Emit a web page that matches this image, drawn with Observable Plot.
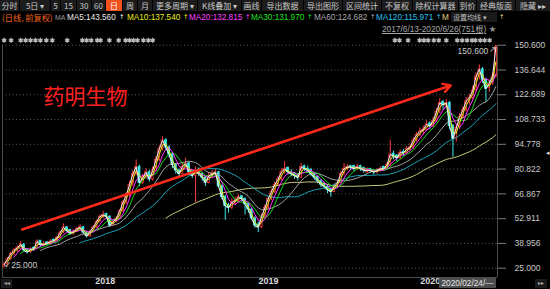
<!DOCTYPE html>
<html><head><meta charset="utf-8">
<script src="https://cdn.jsdelivr.net/npm/d3@7"></script>
<script src="https://cdn.jsdelivr.net/npm/@observablehq/plot@0.6"></script>
<style>
html,body{margin:0;padding:0;background:#000;}
#wrap{position:relative;width:550px;height:289px;overflow:hidden;background:#000;font-family:"Liberation Sans","Noto Sans CJK SC",sans-serif;}
#chart{position:absolute;left:0;top:0;}
#ui{position:absolute;left:0;top:0;width:550px;height:289px;pointer-events:none;}
.abs{position:absolute;white-space:nowrap;line-height:1;}
.btn{position:absolute;top:0;height:11px;background:#1c1c1c;color:#c8c8c8;font-size:8px;line-height:11px;text-align:center;font-family:"Noto Sans CJK SC","Liberation Sans",sans-serif;white-space:nowrap;overflow:hidden;}
.btn.on{background:#f0521e;color:#fff;}
.lg{position:absolute;top:13px;font-size:8.2px;line-height:9px;white-space:nowrap;}
.ar{position:absolute;top:13px;font-size:6.5px;line-height:9px;font-family:"DejaVu Sans";white-space:nowrap;}
</style></head>
<body><div id="wrap"><div id="chart"></div><div id="ui"></div></div>
<script>
// ---- data (weekly bars, 2017/6/13 - 2020/6/26) ----
const open = [26,27.5,30,33.5,35,36,38,35.5,34,36.5, 36,40.5,37.5,39.5,38.5,41,40.5,42,45.5,48, 46.5,44,46,47,48,45.5,43,46,48,51.5, 54,55.5,54,49,51.5,53,57.5,62,66,73, 78,82,73,76.5,79,75,80,86,92.5,97, 93,89,83.5,80,78,82.5,84,79.5,77,80.5, 78,76,73,77.5,77.5,79,71,65,60.5,59, 62.5,63,65.5,64,61,58,53,49.5,48,54.5, 59,64.5,68,72.5,75,79.5,81.5,79,78.5,77, 76,82.5,81,80.5,78,76.5,74,72.5,71,69.5, 68,71.5,73,78.5,81,82.5,82.5,80.5,82.5,81.5, 79,81,80,79,80.5,82,81,83,89.5,88.5, 87,90.5,90,92.5,93,97.5,100,102.5,103,106.5, 105,108,113.5,118.5,116.5,118,105,98,104.5,110, 114,119.5,121,125.5,133,137,131,126.5,129,133];
const high = [28.5,31,34,36,37.5,40,39,36,36.5,37, 41,40.5,40,40,41,41.5,43,46,50,48.5, 47,46.5,48,49.5,48.5,45.5,46.5,49,52,55, 57,56,54.5,52,54,58,63,67.5,74,80, 86,83,78,81,80,82,88,94,99,98, 94,90,84,81,84,87,85,80,82,81.5, 79,77,79,80,81,79.5,72,66,61.5,64, 65,66.5,66,64.5,62,59,54,51,55.5,60.5, 65,69.5,73.5,76.5,81,85,82,80.5,79,78, 84,83,82.5,81,79,77,75,73.5,72,70, 72.5,74.5,79.5,84,83.5,83,83,83.5,83,82, 81.5,81,80.5,81,82,82.5,84.5,97,91,89, 91.5,92,93.5,95,98.5,101.5,104,105,108,107.5, 110,115,120.5,119.5,120,119,106,105.5,112,116, 121,123,127.5,135,139.5,138,132,131,135,150.6];
const low = [25,26.5,29.5,32,34,36,34,33,33.5,34.5, 35.5,37,37,37.5,38,39,40,41.5,44.5,45, 43.5,44,45,46.5,44,42,42.5,45,47.5,50.5, 53,52.5,48,48.5,50.5,52.5,56.5,61,65,71, 77,71,72,75,73.5,74,79.5,85,91,91, 87,81,78,76,77.5,81,77,75.5,62,76.5, 74,71,72.5,76,77,70,63.5,52,56,58, 60.5,62,62.5,55,56,52,47.5,45,47.5,53, 58,63,67,71,74,78,77.5,76.5,75,74, 75.5,79.5,78.5,76.5,74.5,72.5,70.5,69.5,67,65, 67.5,70,72.5,77,80,80,79.5,80,79.5,78.5, 78.5,78.5,77.5,78,79,79.5,80.5,82.5,86,85, 86,88,89,91,92,96,99,100,102,103, 104,107,112,114,115,103,87.5,96,103,109, 113,117,120,124,131,129,118.5,124,128,132];
const close = [27,30,33,35,36.5,38.5,35,34,35.5,36, 40,38,38.5,39,40,40.5,42,45,48,46, 44.5,45.5,47,48,45,43,45.5,48,51,54, 55,54,49,51,53,57,62,66,72,78, 82,73,76,79,75,80,86,92,97,93, 89,83,80,78,82,84,79,77,80,78, 76,73,77,78,79,71,65,60,59,62, 63,65,64,61,58,53,49,48,54,59, 64,68,72,75,79,81,79,78,77,76, 82,81,80,78,76,74,72,71,69,68, 71,73,78,81,82,82,81,82,81,80, 80,80,79,80,81,81,83,89,88,87, 90,90,92,93,97,100,102,103,106,105, 108,113,118,117,118,105,98,104,110,114, 119,121,125,133,137,131,126,129,133,149.5];
const daysPerBar = 5;
const maPeriods = [250, 120, 60, 30, 20, 10, 5];
const maColors  = ["#c8c87a", "#1aa3b8", "#a0a0a0", "#18d818", "#ff30ff", "#ecec1e", "#f2f2f2"];
const maLegendNames  = ["MA5", "MA10", "MA20", "MA30", "MA60", "MA120"];
const maLegendValues = ["143.560", "137.540", "132.815", "131.970", "124.682", "115.971"];
const maLegendColors = ["#ececec", "#ecec1e", "#ff40ff", "#20e020", "#a8a8a8", "#2cc0f0"];
const tickLabels = ["150.600","136.644","122.689","108.733","94.778","80.822","66.867","52.911","38.956","25.000"];
const yearLabels = ["2018","2019","2020"];
const yearStartBar = [27.5, 77, 126];
const eventBars = [0,2.1,5,6.5,8,9.5,11,12.8,14.6,19.1,23.7,25,26.4,28.2,29.2,31.9,34.7,36.8,38,39.2,40.4,42.2,43.7,45,
  118.4,119.8,122.4,125.9,127.2,128.5,130.2,131.7,134,137.3,138.8,140.3,141.8,142.8,144.3,145.6,147.1];
const stockName = "药明生物";
const trend = {fromBar: 5.97, fromPrice: 46.8, toBar: 135.8, toPrice: 127.9};
const rangeText = "2017/6/13-2020/6/26(751根)";
const cursorDate = "2020/02/24/—";

const data = close.map((c, i) => ({i, open: open[i], high: high[i], low: low[i], close: c, up: c >= open[i]}));
const tickValues = tickLabels.map(Number);
const UP = "#ff3c3c", DOWN = "#3ceaea";
const hiBar = data[d3.maxIndex(data, d => d.high)];
const loBar = data[d3.minIndex(data, d => d.low)];
const fmt = d3.format(".3f");

const maMarks = maPeriods.map((p, j) => Plot.lineY(data, Plot.windowY(
  {k: p / daysPerBar, anchor: "end", strict: true},
  {x: d => d.i + 0.5, y: "close", stroke: maColors[j], strokeWidth: 1}
)));

const chart = Plot.plot({
  width: 550, height: 289,
  marginTop: 44.7, marginBottom: 12, marginLeft: 2, marginRight: 53,
  style: {background: "transparent", color: "#c8c8c8", fontFamily: "Liberation Sans, sans-serif", overflow: "visible"},
  x: {domain: [0, close.length], axis: null},
  y: {domain: [19.76, 150.6], axis: null},
  marks: [
    Plot.ruleY(tickValues, {stroke: "#5a5a5a", strokeDasharray: "1 2.5"}),
    Plot.ruleY([19.76], {stroke: "#4a4a4a"}),
    Plot.ruleX([0, close.length], {stroke: "#4a4a4a"}),
    Plot.axisY({anchor: "right", ticks: tickValues, tickFormat: d => tickLabels[tickValues.indexOf(d)],
      tickSize: 8, tickPadding: 9, fontSize: 8.5, fill: "#c8c8c8", stroke: "#7a7a7a", label: null}),
    Plot.dot(eventBars, {x: d => d + 0.5, frameAnchor: "top", dy: -5, symbol: "asterisk", r: 2.3, stroke: "#b8b8b8", strokeWidth: 1.3}),
    Plot.text([stockName], {frameAnchor: "top-left", dx: 41, dy: 43.5, textAnchor: "start", fontSize: 21, fill: "#ff2020", fontFamily: "Noto Sans CJK SC"}),
    Plot.ruleX(data, {x: d => d.i + 0.5, y1: "low", y2: "high", stroke: d => d.up ? UP : DOWN, strokeWidth: 1}),
    Plot.rect(data, {x1: d => d.i + 0.2, x2: d => d.i + 0.8, y1: "open", y2: "close",
      fill: d => d.up ? "#000" : DOWN, stroke: d => d.up ? UP : DOWN, strokeWidth: 0.8}),
    ...maMarks,
    Plot.arrow([trend], {x1: "fromBar", y1: "fromPrice", x2: "toBar", y2: "toPrice", stroke: "#ff2a1a", strokeWidth: 2.5, headLength: 5}),
    Plot.text([hiBar], {x: d => d.i + 0.5, y: "high", text: d => fmt(d.high), textAnchor: "end", dx: -7.5, dy: 6, fontSize: 8.5, fill: "#c8c8c8"}),
    Plot.text([hiBar], {x: d => d.i + 0.5, y: "high", text: () => "↗", dx: -3.5, dy: 4, fontSize: 8, fill: "#c8c8c8", fontFamily: "DejaVu Sans"}),
    Plot.text([loBar], {x: d => d.i + 0.5, y: "low", text: d => fmt(d.low), textAnchor: "start", dx: 7, dy: -2.5, fontSize: 8.5, fill: "#c8c8c8"}),
    Plot.text([loBar], {x: d => d.i + 0.5, y: "low", text: () => "↙", dx: 3.5, dy: -3.5, fontSize: 8, fill: "#c8c8c8", fontFamily: "DejaVu Sans"}),
    Plot.text(yearLabels, {x: (d, i) => yearStartBar[i], frameAnchor: "bottom", dy: 6.5, textAnchor: "start", dx: 2, text: d => d, fontSize: 9, fontWeight: "bold", fill: "#d8d8d8"})
  ]
});
document.getElementById("chart").appendChild(chart);

// ---- UI chrome (toolbar, legend) ----
const ui = document.getElementById("ui");
function add(html){ ui.insertAdjacentHTML("beforeend", html); }
const toolbar = [["分时",0,19],["5日 ▾",20,30],["5",51,9],["15",61,15],["30",77,14],["60",92,13],["日",106,16,1],["周",123,14],["月",138,14],
  ["更多周期 ▾",153,44],["K线叠加 ▾",198,43],["画线",242,19],["导出数据",262,41],["导出图形",304,38],["区间统计",343,38],["不复权",382,30],
  ["除权计算器",413,45],["到价",459,17],["经典版面",477,38],["隐藏 ▸▸",516,34]];
toolbar.forEach(([t,l,w,on]) => add(`<div class="btn${on?" on":""}" style="left:${l}px;width:${w}px">${t}</div>`));
add(`<div class="lg" style="left:2px;color:#f0641e;font-family:'Noto Sans CJK SC'">(日线, 前复权)</div>`);
add(`<div class="lg" style="left:55px;color:#9a9a9a;font-size:7px">MA</div>`);
const lgX = [67, 127, 189, 251, 314, 376];
const arX = [119, 183, 245, 307, 370, 436];
maLegendNames.forEach((n, j) => {
  add(`<div class="lg" style="left:${lgX[j]}px;color:${maLegendColors[j]}">${n}:${maLegendValues[j]}</div>`);
  add(`<div class="ar" style="left:${arX[j]}px;color:${maLegendColors[j]}">↑</div>`);
});
add(`<div class="lg" style="left:442px;color:#e0d27a">M</div>`);
add(`<div class="lg" style="left:451px;top:12px;height:10px;width:44px;background:#1a1a1a;color:#bdbdbd;font-size:7px;line-height:10px;font-family:'Noto Sans CJK SC';padding-left:2px">设置均线 ▾</div>`);
add(`<div class="ar" style="left:499px;color:#e0d27a">↑</div>`);
add(`<div class="abs" style="left:382px;top:25px;font-size:8.3px;color:#a8a8a8;text-decoration:underline;font-family:'Liberation Sans','Noto Sans CJK SC'">${rangeText}</div>`);
add(`<div class="abs" style="left:489px;top:25px;font-size:7px;color:#909090">★</div>`);
add(`<div class="abs" style="left:439px;top:278px;width:57px;height:10px;background:#4d4d4d;color:#e6e6e6;font-size:8.3px;line-height:10px;text-align:center">${cursorDate}</div>`);
add(`<div class="abs" style="left:1px;top:279px;width:11px;height:9px;background:#1a1a1a;color:#aaa;font-size:6px;line-height:9px;text-align:center">◂◂</div>`);
add(`<div class="abs" style="left:535px;top:279px;width:12px;height:9px;background:#1a1a1a;color:#aaa;font-size:6px;line-height:9px;text-align:center">▸▸</div>`);
add(`<div class="abs" style="left:546px;top:149px;font-size:7px;color:#ddd">◂</div>`);
</script>
</body></html>
